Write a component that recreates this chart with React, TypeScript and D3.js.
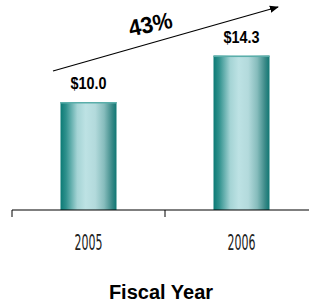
import React from 'react';
import * as d3 from 'd3';

// fiscal year revenue ($M)
const years = ['2005', '2006'];
const revenue = [10.0, 14.3];
const valueLabels = ['$10.0', '$14.3'];
const growthLabel = '43%';
const xTitle = 'Fiscal Year';

const App = () => {
  const width = 309;
  const height = 306;
  const axisY = 210;

  const xScale = d3.scaleBand<string>()
    .domain(years)
    .range([12, 318])
    .paddingInner(0.634)
    .paddingOuter(0.317);

  const yScale = d3.scaleLinear()
    .domain([0, 10])
    .range([axisY, 102]);

  const step = xScale.step();
  const tickXs = d3.range(years.length + 1).map((i) => 12 + i * step);

  return (
    <svg width={width} height={height} style={{ position: 'absolute', left: 0, top: 0 }}>
      <defs>
        <linearGradient id="barGrad" x1="0" x2="1" y1="0" y2="0">
          <stop offset="0%" stopColor="#0b7a75" />
          <stop offset="10%" stopColor="#2f918d" />
          <stop offset="30%" stopColor="#a5d4d5" />
          <stop offset="45%" stopColor="#bde2e4" />
          <stop offset="62%" stopColor="#b3dadc" />
          <stop offset="78%" stopColor="#86bcbc" />
          <stop offset="92%" stopColor="#3b8a88" />
          <stop offset="100%" stopColor="#0f7773" />
        </linearGradient>
        <marker id="arrowHead" viewBox="0 0 10 10" refX="9" refY="5"
          markerWidth="9" markerHeight="9" orient="auto" markerUnits="userSpaceOnUse">
          <path d="M0,1 L10,5 L0,9 Z" fill="#000" />
        </marker>
      </defs>

      {years.map((yr, i) => {
        const x = xScale(yr) as number;
        const y = yScale(revenue[i]);
        const cx = x + xScale.bandwidth() / 2;
        return (
          <g key={yr}>
            <rect x={x} y={y} width={xScale.bandwidth()} height={axisY - y} fill="url(#barGrad)" />
            <rect x={x} y={y} width={xScale.bandwidth()} height={1.5} fill="#5aaeaa" />
            <text x={cx} y={y - 13}
              textAnchor="middle" fontFamily="'Liberation Sans', Arial, sans-serif"
              fontWeight="bold" fontSize={17} textLength={36} lengthAdjust="spacingAndGlyphs" fill="#000">
              {valueLabels[i]}
            </text>
            <text x={0} y={0} transform={`translate(${cx},${axisY + 40}) scale(1,1.2)`}
              textAnchor="middle" fontFamily="'DejaVu Sans', sans-serif"
              fontSize={17} textLength={28} lengthAdjust="spacingAndGlyphs" fill="#222">
              {yr}
            </text>
          </g>
        );
      })}

      <line x1={12} x2={width} y1={axisY} y2={axisY} stroke="#000" strokeWidth={1.2} />
      {tickXs.map((tx) => (
        <line key={tx} x1={tx} x2={tx} y1={axisY} y2={axisY + 7} stroke="#000" strokeWidth={1} />
      ))}

      <line x1={53} y1={71} x2={278} y2={7} stroke="#000" strokeWidth={1.2} markerEnd="url(#arrowHead)" />
      <text x={0} y={0} transform="translate(152,32) rotate(-12)"
        textAnchor="middle" fontFamily="'Liberation Sans', Arial, sans-serif"
        fontWeight="bold" fontSize={23} textLength={44} lengthAdjust="spacingAndGlyphs" fill="#000">
        {growthLabel}
      </text>

      <text x={161} y={299} textAnchor="middle"
        fontFamily="'Liberation Sans', Arial, sans-serif" fontWeight="bold" fontSize={20} fill="#000">
        {xTitle}
      </text>
    </svg>
  );
};

export default App;
